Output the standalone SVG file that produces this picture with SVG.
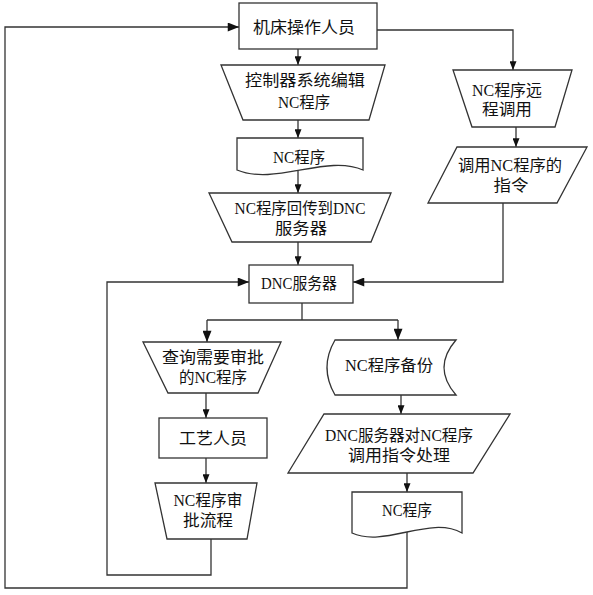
<svg xmlns="http://www.w3.org/2000/svg" width="593" height="595" viewBox="0 0 593 595">
<style>
.s{fill:#fff;stroke:#333;stroke-width:1.3}
.c{fill:none;stroke:#333;stroke-width:1.3}
.t{font-family:"Liberation Serif","Noto Sans CJK SC",serif;font-size:16px;fill:#111;text-anchor:middle}
</style>
<defs>
<marker id="a" viewBox="0 0 10 8" refX="10" refY="4" markerWidth="9" markerHeight="7" markerUnits="userSpaceOnUse" orient="auto">
<path d="M0,0 L10,4 L0,8 Z" fill="#111"/>
</marker>
<marker id="b" viewBox="0 0 10 8" refX="10" refY="4" markerWidth="12" markerHeight="9" markerUnits="userSpaceOnUse" orient="auto">
<path d="M0,0 L10,4 L0,8 Z" fill="#111"/>
</marker>
</defs>
<rect width="593" height="595" fill="#fff"/>
<g id="connectors">
<path class="c" d="M298,49 V65" marker-end="url(#a)"/>
<path class="c" d="M298,120 V138" marker-end="url(#a)"/>
<path class="c" d="M298,171 V193" marker-end="url(#a)"/>
<path class="c" d="M298,242 V265" marker-end="url(#a)"/>
<path class="c" d="M377,30 H513 V70" marker-end="url(#a)"/>
<path class="c" d="M516,127 V147" marker-end="url(#a)"/>
<path class="c" d="M503,203 V282 H353" marker-end="url(#b)"/>
<path class="c" d="M302,303 V320"/>
<path class="c" d="M207,320 H398"/>
<path class="c" d="M207,320 V342" marker-end="url(#b)"/>
<path class="c" d="M398,320 V340" marker-end="url(#b)"/>
<path class="c" d="M206,393 V418" marker-end="url(#a)"/>
<path class="c" d="M206,458 V483" marker-end="url(#a)"/>
<path class="c" d="M211,539 V575 H107 V282 H249" marker-end="url(#b)"/>
<path class="c" d="M401,395 V414" marker-end="url(#a)"/>
<path class="c" d="M407,473 V492" marker-end="url(#a)"/>
<path class="c" d="M407,532 V588 H5 V27 H239" marker-end="url(#b)"/>
</g>
<g id="n1">
<rect class="s" x="239" y="3" width="138" height="46"/>
<text class="t" x="304" y="33" textLength="102" lengthAdjust="spacingAndGlyphs">机床操作人员</text>
</g>
<g id="n2">
<path class="s" d="M221,65 H385 L369,120 H243 Z"/>
<text class="t" x="305" y="86" textLength="120" lengthAdjust="spacingAndGlyphs">控制器系统编辑</text>
<text class="t" x="304" y="108" textLength="52" lengthAdjust="spacingAndGlyphs">NC程序</text>
</g>
<g id="n3">
<path class="s" d="M237,138 H363 V170 C327,154 275,186 237,170 Z"/>
<text class="t" x="299" y="163" textLength="52" lengthAdjust="spacingAndGlyphs">NC程序</text>
</g>
<g id="n4">
<path class="s" d="M209,193 H391 L371,242 H232 Z"/>
<text class="t" x="300" y="214" textLength="131" lengthAdjust="spacingAndGlyphs">NC程序回传到DNC</text>
<text class="t" x="301" y="234" textLength="52" lengthAdjust="spacingAndGlyphs">服务器</text>
</g>
<g id="n5">
<rect class="s" x="249" y="265" width="104" height="38"/>
<text class="t" x="299" y="289" textLength="76" lengthAdjust="spacingAndGlyphs">DNC服务器</text>
</g>
<g id="n6">
<path class="s" d="M453,70 H572 L555,127 H472 Z"/>
<text class="t" x="507" y="96" textLength="70" lengthAdjust="spacingAndGlyphs">NC程序远</text>
<text class="t" x="507" y="115" textLength="50" lengthAdjust="spacingAndGlyphs">程调用</text>
</g>
<g id="n7">
<path class="s" d="M457,147 H587 L557,203 H428 Z"/>
<text class="t" x="510" y="171" textLength="104" lengthAdjust="spacingAndGlyphs">调用NC程序的</text>
<text class="t" x="511" y="191" textLength="35" lengthAdjust="spacingAndGlyphs">指令</text>
</g>
<g id="n8">
<path class="s" d="M143,342 H281 L258,393 H168 Z"/>
<text class="t" x="213" y="363" textLength="102" lengthAdjust="spacingAndGlyphs">查询需要审批</text>
<text class="t" x="213" y="383" textLength="68" lengthAdjust="spacingAndGlyphs">的NC程序</text>
</g>
<g id="n9">
<rect class="s" x="159" y="418" width="108" height="40"/>
<text class="t" x="213" y="444" textLength="68" lengthAdjust="spacingAndGlyphs">工艺人员</text>
</g>
<g id="n10">
<path class="s" d="M155,483 H257 L247,539 H167 Z"/>
<text class="t" x="208" y="506" textLength="69" lengthAdjust="spacingAndGlyphs">NC程序审</text>
<text class="t" x="208" y="526" textLength="50" lengthAdjust="spacingAndGlyphs">批流程</text>
</g>
<g id="n11">
<path class="s" d="M335,340 H456 Q432,367.5 456,395 H335 Q319,367.5 335,340 Z"/>
<text class="t" x="389" y="371" textLength="88" lengthAdjust="spacingAndGlyphs">NC程序备份</text>
</g>
<g id="n12">
<path class="s" d="M324,414 H510 L473,473 H288 Z"/>
<text class="t" x="399" y="441" textLength="148" lengthAdjust="spacingAndGlyphs">DNC服务器对NC程序</text>
<text class="t" x="399" y="461" textLength="102" lengthAdjust="spacingAndGlyphs">调用指令处理</text>
</g>
<g id="n13">
<path class="s" d="M352,492 H462 V533 C430,515 385,548 352,533 Z"/>
<text class="t" x="407" y="516" textLength="50" lengthAdjust="spacingAndGlyphs">NC程序</text>
</g>
</svg>
